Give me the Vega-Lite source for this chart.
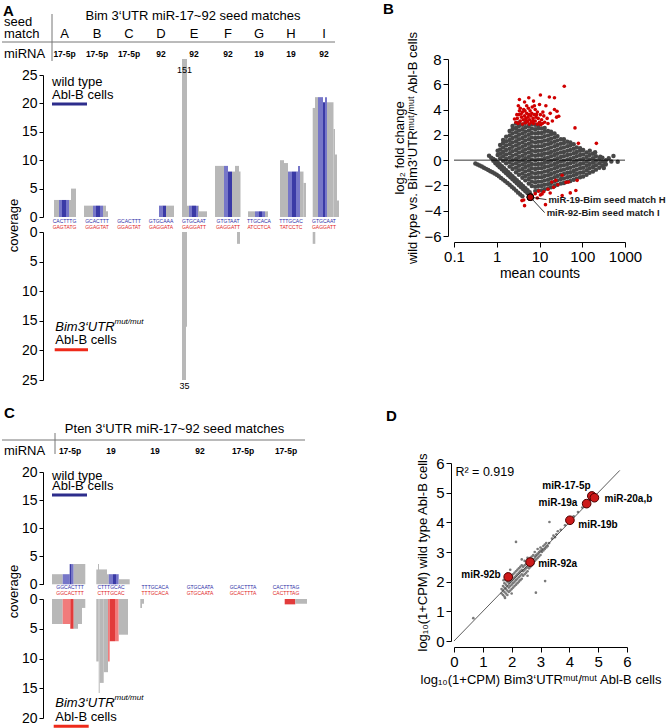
{
"$schema": "https://vega.github.io/schema/vega-lite/v6.json",
"background": "white",
"padding": {"left": 1, "top": 2, "right": 2, "bottom": 0},
"config": {
  "font": "Liberation Sans",
  "view": {"stroke": null},
  "axis": {"grid": false, "domainColor": "#000", "tickColor": "#000", "labelColor": "#000", "titleColor": "#000", "labelFontSize": 14, "titleFontSize": 13, "titleFontWeight": "normal", "tickSize": 4, "labelPadding": 2, "labelFont": "Liberation Sans", "titleFont": "Liberation Sans", "labelOverlap": false},
  "title": {"fontSize": 15, "fontWeight": "bold", "anchor": "start", "frame": "group", "color": "#000", "font": "Liberation Sans"},
  "text": {"font": "Liberation Sans", "color": "#000"}
},
"columns": 2,
"spacing": {"row": 15, "column": 40},
"align": "each",
"datasets": {
  "aWt": [
    {"x0":11,"x1":16,"v":3,"k":"gray"},{"x0":16,"x1":19,"v":3,"k":"blue"},{"x0":19,"x1":23,"v":3,"k":"navy"},{"x0":23,"x1":26,"v":3,"k":"blue"},{"x0":26,"x1":28,"v":3,"k":"gray"},{"x0":28,"x1":33,"v":5,"k":"gray"},
    {"x0":41,"x1":50,"v":2,"k":"gray"},{"x0":50,"x1":53,"v":2,"k":"blue"},{"x0":53,"x1":57,"v":2,"k":"navy"},{"x0":57,"x1":60,"v":2,"k":"blue"},{"x0":60,"x1":63,"v":2,"k":"gray"},{"x0":63,"x1":65,"v":1,"k":"gray"},
    {"x0":116,"x1":119.5,"v":2,"k":"blue"},{"x0":119.5,"x1":123,"v":2,"k":"navy"},{"x0":123,"x1":131,"v":2,"k":"gray"},
    {"x0":139,"x1":144,"v":151,"k":"gray"},{"x0":144,"x1":146,"v":2,"k":"gray"},{"x0":146,"x1":149,"v":2,"k":"blue"},{"x0":149,"x1":153,"v":2,"k":"navy"},{"x0":153,"x1":155,"v":2,"k":"blue"},{"x0":155,"x1":156,"v":2,"k":"gray"},{"x0":156,"x1":164,"v":1,"k":"gray"},
    {"x0":172,"x1":181,"v":9,"k":"gray"},{"x0":181,"x1":185,"v":9,"k":"blue"},{"x0":185,"x1":189,"v":8,"k":"navy"},{"x0":189,"x1":192,"v":8,"k":"gray"},{"x0":192,"x1":196,"v":9,"k":"gray"},{"x0":196,"x1":197.5,"v":8,"k":"gray"},
    {"x0":205,"x1":212,"v":1,"k":"gray"},{"x0":212,"x1":216,"v":1,"k":"blue"},{"x0":216,"x1":219,"v":1,"k":"navy"},{"x0":219,"x1":222,"v":1,"k":"blue"},{"x0":222,"x1":225,"v":1,"k":"gray"},
    {"x0":237,"x1":241,"v":10,"k":"gray"},{"x0":241,"x1":245,"v":9.5,"k":"gray"},{"x0":245,"x1":249,"v":8,"k":"blue"},{"x0":249,"x1":253,"v":8,"k":"navy"},{"x0":253,"x1":255,"v":8,"k":"blue"},{"x0":255,"x1":257,"v":9,"k":"blue"},{"x0":257,"x1":260.5,"v":8,"k":"gray"},{"x0":260.5,"x1":263,"v":6,"k":"gray"},
    {"x0":269.7,"x1":272,"v":19.2,"k":"gray"},{"x0":272,"x1":275,"v":21.1,"k":"gray"},{"x0":275,"x1":280,"v":21.1,"k":"blue"},{"x0":280,"x1":282,"v":20.2,"k":"navy"},{"x0":282,"x1":284,"v":21.1,"k":"blue"},{"x0":284,"x1":290.5,"v":20.2,"k":"gray"},{"x0":290.5,"x1":292,"v":15.5,"k":"gray"},{"x0":292,"x1":294,"v":11,"k":"gray"},{"x0":294,"x1":296,"v":2.9,"k":"gray"}
  ],
  "aMut": [
    {"x0":139,"x1":143,"v":35,"k":"gray"},{"x0":143,"x1":144,"v":16,"k":"gray"},{"x0":194,"x1":197,"v":2,"k":"gray"},{"x0":269.7,"x1":272.3,"v":2,"k":"gray"}
  ],
  "aSites": [
    {"x":21.5,"site":"A","mir":"17-5p","wt":"CACTTTG","mut":"GAGTATG"},
    {"x":54,"site":"B","mir":"17-5p","wt":"GCACTTT","mut":"GGAGTAT"},
    {"x":86,"site":"C","mir":"17-5p","wt":"GCACTTT","mut":"GGAGTAT"},
    {"x":118,"site":"D","mir":"92","wt":"GTGCAAA","mut":"GAGGATA"},
    {"x":151,"site":"E","mir":"92","wt":"GTGCAAT","mut":"GAGGATT"},
    {"x":185,"site":"F","mir":"92","wt":"GTGTAAT","mut":"GAGGATT"},
    {"x":216,"site":"G","mir":"19","wt":"TTGCACA","mut":"ATCCTCA"},
    {"x":248,"site":"H","mir":"19","wt":"TTTGCAC","mut":"TATCCTC"},
    {"x":281,"site":"I","mir":"92","wt":"GTGCAAT","mut":"GAGGATT"}
  ],
  "cWt": [
    {"x0":9,"x1":19.7,"v":1.8,"k":"gray"},{"x0":19.7,"x1":26.7,"v":1.8,"k":"blue"},{"x0":26.7,"x1":28.7,"v":3.6,"k":"navy"},{"x0":28.7,"x1":30.7,"v":3.6,"k":"blue"},{"x0":30.7,"x1":42.3,"v":3.6,"k":"gray"},
    {"x0":53.3,"x1":55,"v":2.65,"k":"gray"},{"x0":55,"x1":56,"v":3.6,"k":"gray"},{"x0":56,"x1":64,"v":2.65,"k":"gray"},{"x0":64,"x1":65.7,"v":1.8,"k":"gray"},{"x0":65.7,"x1":70,"v":1.8,"k":"blue"},{"x0":70,"x1":73,"v":1.8,"k":"navy"},{"x0":73,"x1":75.7,"v":1.8,"k":"blue"},{"x0":75.7,"x1":86.7,"v":0.9,"k":"gray"}
  ],
  "cMut": [
    {"x0":9,"x1":19.7,"v":4.2,"k":"gray"},{"x0":19.7,"x1":27.3,"v":4.2,"k":"red"},{"x0":27.3,"x1":30.7,"v":5.0,"k":"darkred"},{"x0":30.7,"x1":35,"v":5.0,"k":"gray"},{"x0":35,"x1":39,"v":4.2,"k":"gray"},{"x0":39,"x1":42.3,"v":1.5,"k":"gray"},
    {"x0":53.3,"x1":55.7,"v":10.5,"k":"gray"},{"x0":55.7,"x1":56.7,"v":15.8,"k":"gray"},{"x0":56.7,"x1":60.7,"v":14.1,"k":"gray"},{"x0":60.7,"x1":65,"v":12.3,"k":"gray"},{"x0":65,"x1":66.7,"v":10.5,"k":"red"},{"x0":66.7,"x1":72,"v":7.1,"k":"darkred"},{"x0":72,"x1":75.7,"v":7.1,"k":"red"},{"x0":75.7,"x1":85,"v":6.0,"k":"gray"},
    {"x0":97.3,"x1":99,"v":1.5,"k":"gray"},{"x0":99,"x1":101,"v":0.8,"k":"gray"},
    {"x0":241.7,"x1":252.3,"v":0.9,"k":"darkred"},{"x0":252.3,"x1":264,"v":0.8,"k":"gray"}
  ],
  "cSites": [
    {"x":27,"mir":"17-5p","wt":"GGCACTTT","mut":"GGCACTTT"},
    {"x":68,"mir":"19","wt":"CTTTGCAC","mut":"CTTTGCAC"},
    {"x":112,"mir":"19","wt":"TTTGCACA","mut":"TTTGCACA"},
    {"x":157,"mir":"92","wt":"GTGCAATA","mut":"GTGCAATA"},
    {"x":200,"mir":"17-5p","wt":"GCACTTTA","mut":"GCACTTTA"},
    {"x":243,"mir":"17-5p","wt":"CACTTTAG","mut":"CACTTTAG"}
  ],
  "bGray": [
    {"m":1.05,"f":0.4},{"m":1.05,"f":0.75},
    {"m":1.2,"f":0.15},{"m":1.2,"f":0.5},{"m":1.2,"f":0.85},{"m":1.2,"f":1.2},
    {"m":1.41,"f":-0.05},{"m":1.41,"f":0.3},{"m":1.41,"f":0.65},{"m":1.41,"f":1.0},{"m":1.41,"f":1.35},{"m":1.41,"f":1.6},
    {"m":1.66,"f":-0.25},{"m":1.66,"f":0.1},{"m":1.66,"f":0.45},{"m":1.66,"f":0.8},{"m":1.66,"f":1.15},{"m":1.66,"f":1.5},{"m":1.66,"f":1.85},
    {"m":2.0,"f":-0.5},{"m":2.0,"f":-0.15},{"m":2.0,"f":0.2},{"m":2.0,"f":0.55},{"m":2.0,"f":0.9},{"m":2.0,"f":1.25},{"m":2.0,"f":1.6},{"m":2.0,"f":1.95},{"m":2.0,"f":2.3},
    {"m":2.34,"f":-0.7},{"m":2.34,"f":-0.35},{"m":2.34,"f":0},{"m":2.34,"f":0.35},{"m":2.34,"f":0.7},{"m":2.34,"f":1.05},{"m":2.34,"f":1.4},{"m":2.34,"f":1.75},{"m":2.34,"f":2.1},{"m":2.34,"f":2.45},{"m":2.34,"f":2.7},
    {"m":2.82,"f":-0.95},{"m":2.82,"f":-0.6},{"m":2.82,"f":-0.25},{"m":2.82,"f":0.1},{"m":2.82,"f":0.45},{"m":2.82,"f":0.8},{"m":2.82,"f":1.15},{"m":2.82,"f":1.5},{"m":2.82,"f":1.85},{"m":2.82,"f":2.2},{"m":2.82,"f":2.55},{"m":2.82,"f":2.9},
    {"m":3.31,"f":-1.15},{"m":3.31,"f":-0.8},{"m":3.31,"f":-0.45},{"m":3.31,"f":-0.1},{"m":3.31,"f":0.25},{"m":3.31,"f":0.6},{"m":3.31,"f":0.95},{"m":3.31,"f":1.3},{"m":3.31,"f":1.65},{"m":3.31,"f":2.0},{"m":3.31,"f":2.35},{"m":3.31,"f":2.7},{"m":3.31,"f":2.95},
    {"m":3.98,"f":-1.4},{"m":3.98,"f":-1.05},{"m":3.98,"f":-0.7},{"m":3.98,"f":-0.35},{"m":3.98,"f":0},{"m":3.98,"f":0.35},{"m":3.98,"f":0.7},{"m":3.98,"f":1.05},{"m":3.98,"f":1.4},{"m":3.98,"f":1.75},{"m":3.98,"f":2.1},{"m":3.98,"f":2.45},{"m":3.98,"f":2.8},
    {"m":4.68,"f":-1.6},{"m":4.68,"f":-1.25},{"m":4.68,"f":-0.9},{"m":4.68,"f":-0.55},{"m":4.68,"f":-0.2},{"m":4.68,"f":0.15},{"m":4.68,"f":0.5},{"m":4.68,"f":0.85},{"m":4.68,"f":1.2},{"m":4.68,"f":1.55},{"m":4.68,"f":1.9},{"m":4.68,"f":2.25},{"m":4.68,"f":2.6},{"m":4.68,"f":2.95},
    {"m":5.62,"f":-1.85},{"m":5.62,"f":-1.5},{"m":5.62,"f":-1.15},{"m":5.62,"f":-0.8},{"m":5.62,"f":-0.45},{"m":5.62,"f":-0.1},{"m":5.62,"f":0.25},{"m":5.62,"f":0.6},{"m":5.62,"f":0.95},{"m":5.62,"f":1.3},{"m":5.62,"f":1.65},{"m":5.62,"f":2.0},{"m":5.62,"f":2.35},{"m":5.62,"f":2.7},
    {"m":6.61,"f":-2.05},{"m":6.61,"f":-1.7},{"m":6.61,"f":-1.35},{"m":6.61,"f":-1.0},{"m":6.61,"f":-0.65},{"m":6.61,"f":-0.3},{"m":6.61,"f":0.05},{"m":6.61,"f":0.4},{"m":6.61,"f":0.75},{"m":6.61,"f":1.1},{"m":6.61,"f":1.45},{"m":6.61,"f":1.8},{"m":6.61,"f":2.15},{"m":6.61,"f":2.5},{"m":6.61,"f":2.85},
    {"m":7.94,"f":-2.45},{"m":7.94,"f":-2.1},{"m":7.94,"f":-1.75},{"m":7.94,"f":-1.4},{"m":7.94,"f":-1.05},{"m":7.94,"f":-0.7},{"m":7.94,"f":-0.35},{"m":7.94,"f":0},{"m":7.94,"f":0.35},{"m":7.94,"f":0.7},{"m":7.94,"f":1.05},{"m":7.94,"f":1.4},{"m":7.94,"f":1.75},{"m":7.94,"f":2.1},{"m":7.94,"f":2.45},{"m":7.94,"f":2.8},
    {"m":9.33,"f":-2.4},{"m":9.33,"f":-2.05},{"m":9.33,"f":-1.7},{"m":9.33,"f":-1.35},{"m":9.33,"f":-1.0},{"m":9.33,"f":-0.65},{"m":9.33,"f":-0.3},{"m":9.33,"f":0.05},{"m":9.33,"f":0.4},{"m":9.33,"f":0.75},{"m":9.33,"f":1.1},{"m":9.33,"f":1.45},{"m":9.33,"f":1.8},{"m":9.33,"f":2.15},{"m":9.33,"f":2.5},{"m":9.33,"f":2.75},
    {"m":11.2,"f":-2.4},{"m":11.2,"f":-2.05},{"m":11.2,"f":-1.7},{"m":11.2,"f":-1.35},{"m":11.2,"f":-1.0},{"m":11.2,"f":-0.65},{"m":11.2,"f":-0.3},{"m":11.2,"f":0.05},{"m":11.2,"f":0.4},{"m":11.2,"f":0.75},{"m":11.2,"f":1.1},{"m":11.2,"f":1.45},{"m":11.2,"f":1.8},{"m":11.2,"f":2.15},{"m":11.2,"f":2.5},
    {"m":13.2,"f":-2.3},{"m":13.2,"f":-1.95},{"m":13.2,"f":-1.6},{"m":13.2,"f":-1.25},{"m":13.2,"f":-0.9},{"m":13.2,"f":-0.55},{"m":13.2,"f":-0.2},{"m":13.2,"f":0.15},{"m":13.2,"f":0.5},{"m":13.2,"f":0.85},{"m":13.2,"f":1.2},{"m":13.2,"f":1.55},{"m":13.2,"f":1.9},{"m":13.2,"f":2.25},{"m":13.2,"f":2.55},
    {"m":15.8,"f":-2.25},{"m":15.8,"f":-1.9},{"m":15.8,"f":-1.55},{"m":15.8,"f":-1.2},{"m":15.8,"f":-0.85},{"m":15.8,"f":-0.5},{"m":15.8,"f":-0.15},{"m":15.8,"f":0.2},{"m":15.8,"f":0.55},{"m":15.8,"f":0.9},{"m":15.8,"f":1.25},{"m":15.8,"f":1.6},{"m":15.8,"f":1.95},{"m":15.8,"f":2.3},
    {"m":18.6,"f":-2.15},{"m":18.6,"f":-1.8},{"m":18.6,"f":-1.45},{"m":18.6,"f":-1.1},{"m":18.6,"f":-0.75},{"m":18.6,"f":-0.4},{"m":18.6,"f":-0.05},{"m":18.6,"f":0.3},{"m":18.6,"f":0.65},{"m":18.6,"f":1.0},{"m":18.6,"f":1.35},{"m":18.6,"f":1.7},{"m":18.6,"f":2.05},{"m":18.6,"f":2.25},
    {"m":22.4,"f":-2.05},{"m":22.4,"f":-1.7},{"m":22.4,"f":-1.35},{"m":22.4,"f":-1.0},{"m":22.4,"f":-0.65},{"m":22.4,"f":-0.3},{"m":22.4,"f":0.05},{"m":22.4,"f":0.4},{"m":22.4,"f":0.75},{"m":22.4,"f":1.1},{"m":22.4,"f":1.45},{"m":22.4,"f":1.8},{"m":22.4,"f":2.1},
    {"m":26.3,"f":-1.95},{"m":26.3,"f":-1.6},{"m":26.3,"f":-1.25},{"m":26.3,"f":-0.9},{"m":26.3,"f":-0.55},{"m":26.3,"f":-0.2},{"m":26.3,"f":0.15},{"m":26.3,"f":0.5},{"m":26.3,"f":0.85},{"m":26.3,"f":1.2},{"m":26.3,"f":1.55},{"m":26.3,"f":1.9},
    {"m":31.6,"f":-1.85},{"m":31.6,"f":-1.5},{"m":31.6,"f":-1.15},{"m":31.6,"f":-0.8},{"m":31.6,"f":-0.45},{"m":31.6,"f":-0.1},{"m":31.6,"f":0.25},{"m":31.6,"f":0.6},{"m":31.6,"f":0.95},{"m":31.6,"f":1.3},{"m":31.6,"f":1.65},
    {"m":37.2,"f":-1.8},{"m":37.2,"f":-1.45},{"m":37.2,"f":-1.1},{"m":37.2,"f":-0.75},{"m":37.2,"f":-0.4},{"m":37.2,"f":-0.05},{"m":37.2,"f":0.3},{"m":37.2,"f":0.65},{"m":37.2,"f":1.0},{"m":37.2,"f":1.35},{"m":37.2,"f":1.65},
    {"m":44.7,"f":-1.7},{"m":44.7,"f":-1.35},{"m":44.7,"f":-1.0},{"m":44.7,"f":-0.65},{"m":44.7,"f":-0.3},{"m":44.7,"f":0.05},{"m":44.7,"f":0.4},{"m":44.7,"f":0.75},{"m":44.7,"f":1.1},{"m":44.7,"f":1.45},
    {"m":52.5,"f":-1.65},{"m":52.5,"f":-1.3},{"m":52.5,"f":-0.95},{"m":52.5,"f":-0.6},{"m":52.5,"f":-0.25},{"m":52.5,"f":0.1},{"m":52.5,"f":0.45},{"m":52.5,"f":0.8},{"m":52.5,"f":1.15},{"m":52.5,"f":1.4},
    {"m":63.1,"f":-1.55},{"m":63.1,"f":-1.2},{"m":63.1,"f":-0.85},{"m":63.1,"f":-0.5},{"m":63.1,"f":-0.15},{"m":63.1,"f":0.2},{"m":63.1,"f":0.55},{"m":63.1,"f":0.9},{"m":63.1,"f":1.25},
    {"m":74.1,"f":-1.45},{"m":74.1,"f":-1.1},{"m":74.1,"f":-0.75},{"m":74.1,"f":-0.4},{"m":74.1,"f":-0.05},{"m":74.1,"f":0.3},{"m":74.1,"f":0.65},{"m":74.1,"f":1.0},
    {"m":89.1,"f":-1.35},{"m":89.1,"f":-1.0},{"m":89.1,"f":-0.65},{"m":89.1,"f":-0.3},{"m":89.1,"f":0.05},{"m":89.1,"f":0.4},{"m":89.1,"f":0.75},{"m":89.1,"f":0.95},
    {"m":105,"f":-1.3},{"m":105,"f":-0.95},{"m":105,"f":-0.6},{"m":105,"f":-0.25},{"m":105,"f":0.1},{"m":105,"f":0.45},{"m":105,"f":0.8},
    {"m":126,"f":-1.15},{"m":126,"f":-0.8},{"m":126,"f":-0.45},{"m":126,"f":-0.1},{"m":126,"f":0.25},{"m":126,"f":0.6},
    {"m":148,"f":-1.0},{"m":148,"f":-0.65},{"m":148,"f":-0.3},{"m":148,"f":0.05},{"m":148,"f":0.4},
    {"m":178,"f":-0.9},{"m":178,"f":-0.55},{"m":178,"f":-0.2},{"m":178,"f":0.15},{"m":178,"f":0.5},
    {"m":209,"f":-0.75},{"m":209,"f":-0.4},{"m":209,"f":-0.05},{"m":209,"f":0.3},
    {"m":251,"f":-0.6},{"m":251,"f":-0.25},{"m":251,"f":0.1},
    {"m":295,"f":-0.45},{"m":295,"f":-0.1},{"m":295,"f":0.2},
    {"m":355,"f":-0.35},{"m":355,"f":0.0},
    {"m":263,"f":0.27},{"m":537,"f":0.32},{"m":676,"f":-0.13},{"m":347,"f":-0.27},{"m":417,"f":0.15},{"m":479,"f":-0.1},{"m":200,"f":0.62},{"m":150,"f":0.75},{"m":320,"f":-0.62},
    {"m":0.316,"f":-0.27},{"m":0.355,"f":-0.35},{"m":0.398,"f":-0.43},{"m":0.447,"f":-0.51},{"m":0.501,"f":-0.6},{"m":0.562,"f":-0.69},{"m":0.631,"f":-0.78},{"m":0.708,"f":-0.87},{"m":0.794,"f":-0.96},{"m":0.891,"f":-1.06},{"m":1.0,"f":-1.15},{"m":1.12,"f":-1.28},{"m":1.26,"f":-1.41},{"m":1.41,"f":-1.54},{"m":1.58,"f":-1.67},{"m":1.78,"f":-1.8},{"m":2.0,"f":-1.94},{"m":2.24,"f":-2.1},{"m":2.51,"f":-2.25},{"m":2.82,"f":-2.41},{"m":3.16,"f":-2.57},{"m":3.55,"f":-2.72},{"m":3.98,"f":-2.85},
    {"m":0.661,"f":0.35},{"m":0.741,"f":0.19},{"m":0.832,"f":0.1},{"m":0.832,"f":-0.05},{"m":0.933,"f":-0.01},{"m":0.933,"f":-0.25},{"m":1.05,"f":-0.16},{"m":1.05,"f":-0.4},{"m":1.17,"f":-0.32},{"m":1.17,"f":-0.56},{"m":1.32,"f":-0.48},{"m":1.32,"f":-0.72},{"m":1.48,"f":-0.64},{"m":1.48,"f":-0.88},{"m":1.66,"f":-0.79},{"m":1.66,"f":-1.03},{"m":1.86,"f":-0.95},{"m":1.86,"f":-1.19},{"m":2.09,"f":-1.11},{"m":2.09,"f":-1.35},{"m":2.34,"f":-1.27},{"m":2.34,"f":-1.51},{"m":2.63,"f":-1.43},{"m":2.63,"f":-1.67},{"m":2.95,"f":-1.59},{"m":2.95,"f":-1.83},{"m":3.31,"f":-1.74},{"m":3.31,"f":-1.98},{"m":3.72,"f":-1.9},{"m":3.72,"f":-2.14},{"m":4.17,"f":-2.06},{"m":4.17,"f":-2.3},{"m":4.68,"f":-2.22},{"m":4.68,"f":-2.46},{"m":5.25,"f":-2.38},{"m":5.25,"f":-2.62},{"m":5.89,"f":-2.53},{"m":5.89,"f":-2.77},{"m":6.31,"f":-2.75}
  ],
  "bRed": [
    {"m":3.39,"f":4.8},{"m":5.62,"f":4.93},{"m":7.24,"f":4.67},{"m":10.5,"f":5.15},{"m":17.0,"f":4.99},{"m":22.4,"f":4.93},{"m":38.0,"f":5.85},
    {"m":2.82,"f":3.0},{"m":3.02,"f":3.3},{"m":3.16,"f":2.9},{"m":3.31,"f":3.6},{"m":3.55,"f":3.1},{"m":3.55,"f":4.1},{"m":3.8,"f":3.4},{"m":3.98,"f":2.85},{"m":3.98,"f":3.8},{"m":4.17,"f":3.2},{"m":4.27,"f":4.0},{"m":4.47,"f":3.5},{"m":4.68,"f":2.95},{"m":4.79,"f":3.3},{"m":5.01,"f":3.7},{"m":5.01,"f":4.3},{"m":5.25,"f":3.05},{"m":5.37,"f":3.4},{"m":5.62,"f":3.6},{"m":5.75,"f":2.85},{"m":5.89,"f":3.2},{"m":6.03,"f":3.9},{"m":6.31,"f":3.5},{"m":6.46,"f":3.0},{"m":6.61,"f":3.7},{"m":6.76,"f":4.2},{"m":7.08,"f":3.3},{"m":7.24,"f":2.9},{"m":7.59,"f":3.6},{"m":7.94,"f":3.1},{"m":7.94,"f":4.0},{"m":8.32,"f":3.4},{"m":8.91,"f":2.85},{"m":8.91,"f":3.8},{"m":9.33,"f":3.3},{"m":10,"f":3.0},{"m":10,"f":4.4},{"m":10.5,"f":3.6},{"m":11.2,"f":3.2},{"m":11.7,"f":2.9},{"m":12.6,"f":3.5},{"m":13.2,"f":3.0},{"m":14.1,"f":4.3},{"m":15.1,"f":3.3},{"m":15.8,"f":2.9},{"m":17.8,"f":3.7},{"m":20,"f":3.1},{"m":22.4,"f":4.0},{"m":25.1,"f":3.4},{"m":25.7,"f":3.87},{"m":28.2,"f":3.47},{"m":4.47,"f":4.6},{"m":5.5,"f":4.1},{"m":7.59,"f":4.3},{"m":4.57,"f":3.9},{"m":3.39,"f":3.9},{"m":2.95,"f":3.6},{"m":3.72,"f":3.65},{"m":4.9,"f":3.15},{"m":6.92,"f":3.1},{"m":8.51,"f":3.6},{"m":12.0,"f":3.8},{"m":10.7,"f":2.8},{"m":2.6,"f":3.25},{"m":3.2,"f":4.3},
    {"m":67.6,"f":2.55},{"m":81.3,"f":1.33},{"m":214,"f":1.33},
    {"m":4.27,"f":-3.15},{"m":4.47,"f":-3.6},{"m":3.89,"f":-3.2},{"m":11.5,"f":-2.67},{"m":13.8,"f":-3.52},{"m":9.55,"f":-2.45},{"m":10.5,"f":-2.75},{"m":12.6,"f":-2.5},{"m":15.8,"f":-2.3},{"m":19.5,"f":-1.73},{"m":24,"f":-1.6},{"m":26.9,"f":-1.95},{"m":33.9,"f":-1.2},{"m":41.7,"f":-1.76},{"m":52.5,"f":-2.59},{"m":70.8,"f":-2.4},{"m":75.9,"f":-1.6},{"m":47.9,"f":-1.73},{"m":33.9,"f":-2.8},{"m":7.94,"f":-2.65},{"m":8.91,"f":-3.0},{"m":17.8,"f":-2.6},{"m":21.4,"f":-2.15}
  ],
  "bHits": [
    {"label":"miR-19-Bim seed match H","m":6.1,"f":-2.93,"lm":14.5,"lf":-3.12},
    {"label":"miR-92-Bim seed match I","m":6.1,"f":-2.93,"lm":13.2,"lf":-4.15}
  ],
  "dPts": [
    {"mut":1.65,"wt":1.6},{"mut":1.65,"wt":1.75},
    {"mut":1.7,"wt":1.55},{"mut":1.7,"wt":1.7},{"mut":1.7,"wt":1.85},
    {"mut":1.75,"wt":1.5},{"mut":1.75,"wt":1.65},{"mut":1.75,"wt":1.8},{"mut":1.75,"wt":1.95},
    {"mut":1.8,"wt":1.6},{"mut":1.8,"wt":1.75},{"mut":1.8,"wt":1.9},{"mut":1.8,"wt":2.05},
    {"mut":1.85,"wt":1.55},{"mut":1.85,"wt":1.7},{"mut":1.85,"wt":1.85},{"mut":1.85,"wt":2.0},
    {"mut":1.9,"wt":1.65},{"mut":1.9,"wt":1.8},{"mut":1.9,"wt":1.95},{"mut":1.9,"wt":2.1},
    {"mut":1.95,"wt":1.7},{"mut":1.95,"wt":1.85},{"mut":1.95,"wt":2.0},{"mut":1.95,"wt":2.15},
    {"mut":2.0,"wt":1.75},{"mut":2.0,"wt":1.9},{"mut":2.0,"wt":2.05},{"mut":2.0,"wt":2.2},
    {"mut":2.05,"wt":1.8},{"mut":2.05,"wt":1.95},{"mut":2.05,"wt":2.1},{"mut":2.05,"wt":2.25},
    {"mut":2.1,"wt":1.85},{"mut":2.1,"wt":2.0},{"mut":2.1,"wt":2.15},{"mut":2.1,"wt":2.3},
    {"mut":2.15,"wt":1.9},{"mut":2.15,"wt":2.05},{"mut":2.15,"wt":2.2},{"mut":2.15,"wt":2.35},
    {"mut":2.2,"wt":1.95},{"mut":2.2,"wt":2.1},{"mut":2.2,"wt":2.25},{"mut":2.2,"wt":2.4},
    {"mut":2.25,"wt":2.0},{"mut":2.25,"wt":2.15},{"mut":2.25,"wt":2.3},{"mut":2.25,"wt":2.45},
    {"mut":2.3,"wt":2.05},{"mut":2.3,"wt":2.2},{"mut":2.3,"wt":2.35},{"mut":2.3,"wt":2.5},
    {"mut":2.35,"wt":2.1},{"mut":2.35,"wt":2.25},{"mut":2.35,"wt":2.4},{"mut":2.35,"wt":2.55},
    {"mut":2.4,"wt":2.2},{"mut":2.4,"wt":2.35},{"mut":2.4,"wt":2.5},
    {"mut":2.45,"wt":2.25},{"mut":2.45,"wt":2.4},{"mut":2.45,"wt":2.55},{"mut":2.45,"wt":2.7},
    {"mut":2.5,"wt":2.3},{"mut":2.5,"wt":2.45},{"mut":2.5,"wt":2.6},
    {"mut":2.55,"wt":2.35},{"mut":2.55,"wt":2.5},{"mut":2.55,"wt":2.65},{"mut":2.55,"wt":2.8},
    {"mut":2.6,"wt":2.45},{"mut":2.6,"wt":2.6},{"mut":2.6,"wt":2.75},
    {"mut":2.65,"wt":2.5},{"mut":2.65,"wt":2.65},{"mut":2.65,"wt":2.8},
    {"mut":2.7,"wt":2.55},{"mut":2.7,"wt":2.7},{"mut":2.7,"wt":2.85},
    {"mut":2.75,"wt":2.6},{"mut":2.75,"wt":2.75},{"mut":2.75,"wt":2.9},
    {"mut":2.8,"wt":2.7},{"mut":2.8,"wt":2.85},{"mut":2.8,"wt":3.0},
    {"mut":2.85,"wt":2.75},{"mut":2.85,"wt":2.9},
    {"mut":2.9,"wt":2.8},{"mut":2.9,"wt":2.95},{"mut":2.9,"wt":3.1},
    {"mut":2.95,"wt":2.85},{"mut":2.95,"wt":3.0},
    {"mut":3.0,"wt":2.9},{"mut":3.0,"wt":3.05},{"mut":3.0,"wt":3.15},
    {"mut":3.05,"wt":3.0},{"mut":3.05,"wt":3.1},
    {"mut":3.1,"wt":3.05},{"mut":3.1,"wt":3.2},
    {"mut":3.15,"wt":3.1},{"mut":3.15,"wt":3.25},
    {"mut":3.2,"wt":3.15},{"mut":3.2,"wt":3.3},
    {"mut":3.25,"wt":3.2},{"mut":3.3,"wt":3.3},
    {"mut":3.4,"wt":3.45},{"mut":3.45,"wt":3.55},{"mut":3.5,"wt":3.5},{"mut":3.55,"wt":3.6},{"mut":3.6,"wt":3.7},{"mut":3.7,"wt":3.75},{"mut":3.85,"wt":3.9},{"mut":3.95,"wt":4.05},{"mut":4.15,"wt":4.2},{"mut":4.3,"wt":4.35},{"mut":4.45,"wt":4.5},{"mut":4.7,"wt":4.75},
    {"mut":2.15,"wt":3.34},{"mut":2.84,"wt":1.63},{"mut":3.16,"wt":2.02},{"mut":3.31,"wt":4.01},{"mut":0.67,"wt":0.77},{"mut":1.77,"wt":1.45},{"mut":1.72,"wt":2.05},{"mut":2.35,"wt":2.75},{"mut":2.55,"wt":2.2},{"mut":1.95,"wt":2.4},{"mut":2.0,"wt":1.6}
  ],
  "dHits": [
    {"name":"miR-92b","mut":1.88,"wt":2.16,"lx":1.62,"ly":2.21,"side":"right"},
    {"name":"miR-92a","mut":2.64,"wt":2.66,"lx":2.92,"ly":2.58,"side":"left"},
    {"name":"miR-19b","mut":4.02,"wt":4.07,"lx":4.31,"ly":3.91,"side":"left"},
    {"name":"miR-19a","mut":4.6,"wt":4.63,"lx":4.28,"ly":4.64,"side":"right"},
    {"name":"miR-17-5p","mut":4.78,"wt":4.89,"lx":3.9,"ly":5.23,"side":"center"},
    {"name":"miR-20a,b","mut":4.87,"wt":4.83,"lx":5.22,"ly":4.78,"side":"left"}
  ]
},
"concat": [
{
  "width": 300, "height": 321,
  "title": {"text": "A", "dx": -40, "offset": -9},
  "resolve": {"scale": {"y": "independent"}, "axis": {"y": "independent"}},
  "layer": [
    {"data": {"name": "aWt"}, "mark": {"type": "rect", "clip": true},
     "encoding": {
       "x": {"field": "x0", "type": "quantitative", "scale": {"domain": [0, 300], "nice": false, "zero": false}, "axis": null},
       "x2": {"field": "x1"},
       "y": {"field": "v", "type": "quantitative", "scale": {"domain": [0, 25], "range": [158, 16], "nice": false, "zero": false},
             "axis": {"orient": "left", "values": [0,5,10,15,20,25], "labelOverlap": false, "title": "coverage", "titleX": -30, "titleY": 166, "titleAngle": 270, "titleAlign": "center", "titleBaseline": "middle"}},
       "y2": {"datum": 0},
       "color": {"field": "k", "type": "nominal", "scale": {"domain": ["gray","blue","navy","red","darkred"], "range": ["#b8b8b8","#7676c8","#3a3aa6","#f17b7b","#e23b3b"]}, "legend": null}
     }},
    {"data": {"name": "aMut"}, "mark": {"type": "rect", "clip": true},
     "encoding": {
       "x": {"field": "x0", "type": "quantitative", "axis": null},
       "x2": {"field": "x1"},
       "y": {"field": "v", "type": "quantitative", "scale": {"domain": [0, 25], "range": [173, 321], "nice": false, "zero": false},
             "axis": {"orient": "left", "values": [0,5,10,15,20,25], "labelOverlap": false, "title": null}},
       "y2": {"datum": 0},
       "color": {"field": "k", "type": "nominal", "legend": null}
     }},
    {"data": {"name": "aSites"}, "mark": {"type": "text", "fontSize": 5, "color": "#2b2ba6", "baseline": "middle", "dy": 4},
     "encoding": {"x": {"field": "x", "type": "quantitative"}, "y": {"datum": 0, "type": "quantitative", "scale": {"domain": [0, 25], "range": [158, 16]}, "axis": null}, "text": {"field": "wt"}}},
    {"data": {"name": "aSites"}, "mark": {"type": "text", "fontSize": 5, "color": "#e02424", "baseline": "middle", "dy": -5.3},
     "encoding": {"x": {"field": "x", "type": "quantitative"}, "y": {"datum": 0, "type": "quantitative", "scale": {"domain": [0, 25], "range": [173, 321]}, "axis": null}, "text": {"field": "mut"}}},
    {"data": {"name": "aSites"}, "mark": {"type": "text", "fontSize": 13, "baseline": "middle"},
     "encoding": {"x": {"field": "x", "type": "quantitative"}, "y": {"datum": 1.95, "type": "quantitative", "scale": {"domain": [0, 4], "range": [-64, 16]}, "axis": null}, "text": {"field": "site"}}},
    {"data": {"name": "aSites"}, "mark": {"type": "text", "fontSize": 8.5, "fontWeight": "bold", "baseline": "middle"},
     "encoding": {"x": {"field": "x", "type": "quantitative"}, "y": {"datum": 2.95, "type": "quantitative", "scale": {"domain": [0, 4], "range": [-64, 16]}, "axis": null}, "text": {"field": "mir"}}},
    {"data": {"values": [{}]}, "mark": {"type": "text", "text": "Bim 3‘UTR miR-17~92 seed matches", "fontSize": 13, "baseline": "middle"},
     "encoding": {"x": {"datum": 150, "type": "quantitative"}, "y": {"datum": 1.05, "type": "quantitative", "scale": {"domain": [0, 4], "range": [-64, 16]}, "axis": null}}},
    {"data": {"values": [{}]}, "mark": {"type": "text", "text": "seed", "fontSize": 13, "baseline": "middle", "align": "left"},
     "encoding": {"x": {"datum": -39, "type": "quantitative"}, "y": {"datum": 1.35, "type": "quantitative", "scale": {"domain": [0, 4], "range": [-64, 16]}, "axis": null}}},
    {"data": {"values": [{}]}, "mark": {"type": "text", "text": "match", "fontSize": 13, "baseline": "middle", "align": "left"},
     "encoding": {"x": {"datum": -39, "type": "quantitative"}, "y": {"datum": 1.95, "type": "quantitative", "scale": {"domain": [0, 4], "range": [-64, 16]}, "axis": null}}},
    {"data": {"values": [{}]}, "mark": {"type": "text", "text": "miRNA", "fontSize": 13, "baseline": "middle", "align": "left"},
     "encoding": {"x": {"datum": -39, "type": "quantitative"}, "y": {"datum": 2.95, "type": "quantitative", "scale": {"domain": [0, 4], "range": [-64, 16]}, "axis": null}}},
    {"data": {"values": [{}]}, "mark": {"type": "rule", "color": "#777", "strokeWidth": 1},
     "encoding": {"x": {"datum": -41, "type": "quantitative"}, "x2": {"datum": 292}, "y": {"datum": 2.35, "type": "quantitative", "scale": {"domain": [0, 4], "range": [-64, 16]}, "axis": null}}},
    {"data": {"values": [{}]}, "mark": {"type": "rule", "color": "#777", "strokeWidth": 1},
     "encoding": {"x": {"datum": 9, "type": "quantitative"}, "y": {"datum": 0.95, "type": "quantitative", "scale": {"domain": [0, 4], "range": [-64, 16]}, "axis": null}, "y2": {"datum": 3.3}}},
    {"data": {"values": [{}]}, "mark": {"type": "text", "text": "151", "fontSize": 9, "baseline": "bottom"},
     "encoding": {"x": {"datum": 141.5, "type": "quantitative"}, "y": {"datum": 25, "type": "quantitative", "scale": {"domain": [0, 25], "range": [158, 16]}, "axis": null}}},
    {"data": {"values": [{}]}, "mark": {"type": "text", "text": "35", "fontSize": 9, "baseline": "top", "dy": 2},
     "encoding": {"x": {"datum": 141.5, "type": "quantitative"}, "y": {"datum": 25, "type": "quantitative", "scale": {"domain": [0, 25], "range": [173, 321]}, "axis": null}}},
    {"data": {"values": [{}]}, "mark": {"type": "text", "text": "wild type", "fontSize": 13, "baseline": "middle", "align": "left"},
     "encoding": {"x": {"datum": 9, "type": "quantitative"}, "y": {"datum": 23.8, "type": "quantitative", "scale": {"domain": [0, 25], "range": [158, 16]}, "axis": null}}},
    {"data": {"values": [{}]}, "mark": {"type": "text", "text": "Abl-B cells", "fontSize": 13, "baseline": "middle", "align": "left"},
     "encoding": {"x": {"datum": 9, "type": "quantitative"}, "y": {"datum": 21.5, "type": "quantitative", "scale": {"domain": [0, 25], "range": [158, 16]}, "axis": null}}},
    {"data": {"values": [{}]}, "mark": {"type": "rule", "color": "#2d2d8c", "strokeWidth": 3},
     "encoding": {"x": {"datum": 9, "type": "quantitative"}, "x2": {"datum": 44}, "y": {"datum": 19.9, "type": "quantitative", "scale": {"domain": [0, 25], "range": [158, 16]}, "axis": null}}},
    {"data": {"values": [{}]}, "mark": {"type": "text", "text": "Bim3‘UTR", "fontSize": 13, "fontStyle": "italic", "baseline": "middle", "align": "left"},
     "encoding": {"x": {"datum": 12.3, "type": "quantitative"}, "y": {"datum": 16.0, "type": "quantitative", "scale": {"domain": [0, 25], "range": [173, 321]}, "axis": null}}},
    {"data": {"values": [{}]}, "mark": {"type": "text", "text": "mut/mut", "fontSize": 8, "fontStyle": "italic", "baseline": "middle", "align": "left", "dy": -5},
     "encoding": {"x": {"datum": 71.5, "type": "quantitative"}, "y": {"datum": 16.0, "type": "quantitative", "scale": {"domain": [0, 25], "range": [173, 321]}, "axis": null}}},
    {"data": {"values": [{}]}, "mark": {"type": "text", "text": "Abl-B cells", "fontSize": 13, "baseline": "middle", "align": "left"},
     "encoding": {"x": {"datum": 12.3, "type": "quantitative"}, "y": {"datum": 18.2, "type": "quantitative", "scale": {"domain": [0, 25], "range": [173, 321]}, "axis": null}}},
    {"data": {"values": [{}]}, "mark": {"type": "rule", "color": "#ee2a1a", "strokeWidth": 3},
     "encoding": {"x": {"datum": 11.7, "type": "quantitative"}, "x2": {"datum": 45}, "y": {"datum": 19.9, "type": "quantitative", "scale": {"domain": [0, 25], "range": [173, 321]}, "axis": null}}}
  ]
},
{
  "width": 171, "height": 177,
  "title": {"text": "B", "dx": -71, "offset": 14},
  "resolve": {"axis": {"x": "independent", "y": "independent"}},
  "layer": [
    {"data": {"name": "bGray"}, "mark": {"type": "circle", "size": 20, "color": "#474747", "opacity": 1},
     "encoding": {
       "x": {"field": "m", "type": "quantitative", "scale": {"type": "log", "domain": [0.1, 1000], "nice": false},
             "axis": {"values": [0.1, 1, 10, 100, 1000], "format": "~r", "offset": 6, "title": "mean counts", "labelFontSize": 15, "titleFontSize": 14, "tickSize": 5, "labelFlush": false, "labelOverlap": false, "titlePadding": 2}},
       "y": {"field": "f", "type": "quantitative", "scale": {"domain": [-6, 8], "nice": false, "zero": false},
             "axis": {"values": [-6, -4, -2, 0, 2, 4, 6, 8], "labelOverlap": false, "offset": 6, "title": ["log₂ fold change", "wild type vs. Bim3‘UTRᵐᵘᵗ/ᵐᵘᵗ Abl-B cells"], "labelFontSize": 15, "titleFontSize": 13, "tickSize": 5, "titleLineHeight": 13, "titlePadding": 4}}
     }},
    {"data": {"name": "bRed"}, "mark": {"type": "circle", "size": 13, "color": "#d00000", "opacity": 1},
     "encoding": {"x": {"field": "m", "type": "quantitative", "axis": null}, "y": {"field": "f", "type": "quantitative", "axis": null}}},
    {"data": {"values": [{}]}, "mark": {"type": "rule", "color": "#000", "strokeWidth": 0.8},
     "encoding": {"y": {"datum": 0, "type": "quantitative", "axis": null}}},
    {"data": {"name": "bHits"}, "mark": {"type": "rule", "color": "#000", "strokeWidth": 0.8},
     "encoding": {"x": {"field": "m", "type": "quantitative", "axis": null}, "y": {"field": "f", "type": "quantitative", "axis": null}, "x2": {"field": "lm"}, "y2": {"field": "lf"}}},
    {"data": {"name": "bHits"}, "mark": {"type": "circle", "size": 45, "fill": "#b00000", "stroke": "#000", "strokeWidth": 1, "opacity": 1},
     "encoding": {"x": {"field": "m", "type": "quantitative", "axis": null}, "y": {"field": "f", "type": "quantitative", "axis": null}}},
    {"data": {"name": "bHits"}, "mark": {"type": "text", "align": "left", "baseline": "middle", "fontSize": 9.5, "fontWeight": "bold", "dx": 2, "color": "#1a1a1a"},
     "encoding": {"x": {"field": "lm", "type": "quantitative", "axis": null}, "y": {"field": "lf", "type": "quantitative", "axis": null}, "text": {"field": "label"}}}
  ]
},
{
  "width": 300, "height": 255,
  "title": {"text": "C", "dx": -39, "offset": 2},
  "resolve": {"scale": {"y": "independent"}, "axis": {"y": "independent"}},
  "layer": [
    {"data": {"name": "cWt"}, "mark": {"type": "rect", "clip": true},
     "encoding": {
       "x": {"field": "x0", "type": "quantitative", "scale": {"domain": [0, 300], "nice": false, "zero": false}, "axis": null},
       "x2": {"field": "x1"},
       "y": {"field": "v", "type": "quantitative", "scale": {"domain": [0, 20], "range": [121.3, 9], "nice": false, "zero": false},
             "axis": {"orient": "left", "values": [0,5,10,15,20], "labelOverlap": false, "title": "coverage", "titleX": -30, "titleY": 128, "titleAngle": 270, "titleAlign": "center", "titleBaseline": "middle"}},
       "y2": {"datum": 0},
       "color": {"field": "k", "type": "nominal", "scale": {"domain": ["gray","blue","navy","red","darkred"], "range": ["#b8b8b8","#7676c8","#3a3aa6","#f17b7b","#e23b3b"]}, "legend": null}
     }},
    {"data": {"name": "cMut"}, "mark": {"type": "rect", "clip": true},
     "encoding": {
       "x": {"field": "x0", "type": "quantitative", "axis": null},
       "x2": {"field": "x1"},
       "y": {"field": "v", "type": "quantitative", "scale": {"domain": [0, 20], "range": [136, 255], "nice": false, "zero": false},
             "axis": {"orient": "left", "values": [0,5,10,15,20], "labelOverlap": false, "title": null}},
       "y2": {"datum": 0},
       "color": {"field": "k", "type": "nominal", "legend": null}
     }},
    {"data": {"name": "cSites"}, "mark": {"type": "text", "fontSize": 5, "color": "#2b2ba6", "baseline": "middle", "dy": 3},
     "encoding": {"x": {"field": "x", "type": "quantitative"}, "y": {"datum": 0, "type": "quantitative", "scale": {"domain": [0, 20], "range": [121.3, 9]}, "axis": null}, "text": {"field": "wt"}}},
    {"data": {"name": "cSites"}, "mark": {"type": "text", "fontSize": 5, "color": "#e02424", "baseline": "middle", "dy": -6.5},
     "encoding": {"x": {"field": "x", "type": "quantitative"}, "y": {"datum": 0, "type": "quantitative", "scale": {"domain": [0, 20], "range": [136, 255]}, "axis": null}, "text": {"field": "mut"}}},
    {"data": {"name": "cSites"}, "mark": {"type": "text", "fontSize": 8.5, "fontWeight": "bold", "baseline": "middle"},
     "encoding": {"x": {"field": "x", "type": "quantitative"}, "y": {"datum": 2.95, "type": "quantitative", "scale": {"domain": [0, 4], "range": [-71, 9]}, "axis": null}, "text": {"field": "mir"}}},
    {"data": {"values": [{}]}, "mark": {"type": "text", "text": "Pten 3‘UTR miR-17~92 seed matches", "fontSize": 13, "baseline": "middle"},
     "encoding": {"x": {"datum": 131.5, "type": "quantitative"}, "y": {"datum": 1.85, "type": "quantitative", "scale": {"domain": [0, 4], "range": [-71, 9]}, "axis": null}}},
    {"data": {"values": [{}]}, "mark": {"type": "text", "text": "miRNA", "fontSize": 13, "baseline": "middle", "align": "left"},
     "encoding": {"x": {"datum": -39, "type": "quantitative"}, "y": {"datum": 2.95, "type": "quantitative", "scale": {"domain": [0, 4], "range": [-71, 9]}, "axis": null}}},
    {"data": {"values": [{}]}, "mark": {"type": "rule", "color": "#777", "strokeWidth": 1},
     "encoding": {"x": {"datum": -41, "type": "quantitative"}, "x2": {"datum": 262}, "y": {"datum": 2.4, "type": "quantitative", "scale": {"domain": [0, 4], "range": [-71, 9]}, "axis": null}}},
    {"data": {"values": [{}]}, "mark": {"type": "rule", "color": "#777", "strokeWidth": 1},
     "encoding": {"x": {"datum": 12, "type": "quantitative"}, "y": {"datum": 2.05, "type": "quantitative", "scale": {"domain": [0, 4], "range": [-71, 9]}, "axis": null}, "y2": {"datum": 3.1}}},
    {"data": {"values": [{}]}, "mark": {"type": "text", "text": "wild type", "fontSize": 13, "baseline": "middle", "align": "left"},
     "encoding": {"x": {"datum": 9, "type": "quantitative"}, "y": {"datum": 19.3, "type": "quantitative", "scale": {"domain": [0, 20], "range": [121.3, 9]}, "axis": null}}},
    {"data": {"values": [{}]}, "mark": {"type": "text", "text": "Abl-B cells", "fontSize": 13, "baseline": "middle", "align": "left"},
     "encoding": {"x": {"datum": 9, "type": "quantitative"}, "y": {"datum": 17.5, "type": "quantitative", "scale": {"domain": [0, 20], "range": [121.3, 9]}, "axis": null}}},
    {"data": {"values": [{}]}, "mark": {"type": "rule", "color": "#2d2d8c", "strokeWidth": 3},
     "encoding": {"x": {"datum": 9, "type": "quantitative"}, "x2": {"datum": 44}, "y": {"datum": 15.9, "type": "quantitative", "scale": {"domain": [0, 20], "range": [121.3, 9]}, "axis": null}}},
    {"data": {"values": [{}]}, "mark": {"type": "text", "text": "Bim3‘UTR", "fontSize": 13, "fontStyle": "italic", "baseline": "middle", "align": "left"},
     "encoding": {"x": {"datum": 12.3, "type": "quantitative"}, "y": {"datum": 17.5, "type": "quantitative", "scale": {"domain": [0, 20], "range": [136, 255]}, "axis": null}}},
    {"data": {"values": [{}]}, "mark": {"type": "text", "text": "mut/mut", "fontSize": 8, "fontStyle": "italic", "baseline": "middle", "align": "left", "dy": -5},
     "encoding": {"x": {"datum": 71.5, "type": "quantitative"}, "y": {"datum": 17.5, "type": "quantitative", "scale": {"domain": [0, 20], "range": [136, 255]}, "axis": null}}},
    {"data": {"values": [{}]}, "mark": {"type": "text", "text": "Abl-B cells", "fontSize": 13, "baseline": "middle", "align": "left"},
     "encoding": {"x": {"datum": 12.3, "type": "quantitative"}, "y": {"datum": 19.8, "type": "quantitative", "scale": {"domain": [0, 20], "range": [136, 255]}, "axis": null}}},
    {"data": {"values": [{}]}, "mark": {"type": "rule", "color": "#ee2a1a", "strokeWidth": 3},
     "encoding": {"x": {"datum": 10.7, "type": "quantitative"}, "x2": {"datum": 45.7}, "y": {"datum": 21.4, "type": "quantitative", "scale": {"domain": [0, 20], "range": [136, 255]}, "axis": null}}}
  ]
},
{
  "width": 173, "height": 178,
  "title": {"text": "D", "dx": -68, "offset": 29},
  "resolve": {"axis": {"x": "independent", "y": "independent"}},
  "layer": [
    {"data": {"name": "dPts"}, "mark": {"type": "circle", "size": 7, "color": "#7a7a7a", "opacity": 1},
     "encoding": {
       "x": {"field": "mut", "type": "quantitative", "scale": {"domain": [0, 6], "nice": false},
             "axis": {"values": [0,1,2,3,4,5,6], "labelOverlap": false, "offset": 6, "title": "log₁₀(1+CPM) Bim3‘UTRᵐᵘᵗ/ᵐᵘᵗ Abl-B cells", "labelFontSize": 15, "titleFontSize": 13, "tickSize": 5, "labelFlush": false, "titlePadding": 4}},
       "y": {"field": "wt", "type": "quantitative", "scale": {"domain": [0, 6], "nice": false},
             "axis": {"values": [0,1,2,3,4,5,6], "labelOverlap": false, "offset": 3, "title": "log₁₀(1+CPM) wild type Abl-B cells", "labelFontSize": 15, "titleFontSize": 13, "tickSize": 5, "titlePadding": 6}}
     }},
    {"data": {"values": [{}]}, "mark": {"type": "rule", "color": "#333", "strokeWidth": 0.8},
     "encoding": {"x": {"datum": 0, "type": "quantitative", "axis": null}, "y": {"datum": 0, "type": "quantitative", "axis": null}, "x2": {"datum": 5.75}, "y2": {"datum": 5.75}}},
    {"data": {"name": "dHits"}, "mark": {"type": "circle", "size": 75, "fill": "#cc1a1a", "stroke": "#4d0000", "strokeWidth": 1, "opacity": 1},
     "encoding": {"x": {"field": "mut", "type": "quantitative", "axis": null}, "y": {"field": "wt", "type": "quantitative", "axis": null}}},
    {"data": {"name": "dHits"}, "transform": [{"filter": "datum.side == 'left'"}], "mark": {"type": "text", "align": "left", "baseline": "middle", "fontSize": 10, "fontWeight": "bold"},
     "encoding": {"x": {"field": "lx", "type": "quantitative", "axis": null}, "y": {"field": "ly", "type": "quantitative", "axis": null}, "text": {"field": "name"}}},
    {"data": {"name": "dHits"}, "transform": [{"filter": "datum.side == 'right'"}], "mark": {"type": "text", "align": "right", "baseline": "middle", "fontSize": 10, "fontWeight": "bold"},
     "encoding": {"x": {"field": "lx", "type": "quantitative", "axis": null}, "y": {"field": "ly", "type": "quantitative", "axis": null}, "text": {"field": "name"}}},
    {"data": {"name": "dHits"}, "transform": [{"filter": "datum.side == 'center'"}], "mark": {"type": "text", "align": "center", "baseline": "middle", "fontSize": 10, "fontWeight": "bold"},
     "encoding": {"x": {"field": "lx", "type": "quantitative", "axis": null}, "y": {"field": "ly", "type": "quantitative", "axis": null}, "text": {"field": "name"}}},
    {"data": {"values": [{}]}, "mark": {"type": "text", "text": "R² = 0.919", "align": "left", "baseline": "middle", "fontSize": 12.5},
     "encoding": {"x": {"datum": 0.05, "type": "quantitative", "axis": null}, "y": {"datum": 5.7, "type": "quantitative", "axis": null}}}
  ]
}
]
}
